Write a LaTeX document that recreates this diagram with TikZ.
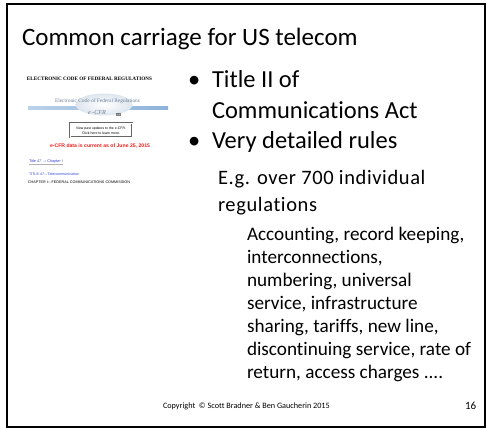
\documentclass[tikz,border=0pt]{standalone}
\usepackage{fontspec}
\usepackage{graphicx}
\usetikzlibrary{shapes.geometric}
\setmainfont[Ligatures=NoCommon]{Carlito}
\newfontfamily\slidefont[Ligatures=NoCommon]{Carlito}
\newfontfamily\subfont[Ligatures=NoCommon,LetterSpace=3]{Carlito}
\newfontfamily\webserif{Liberation Serif}
\newfontfamily\websans{Liberation Sans}
\definecolor{linkblue}{HTML}{3344CC}
\definecolor{alertred}{HTML}{EE1C1C}
\definecolor{logoblue}{HTML}{8DB3D9}
\definecolor{logofill}{HTML}{DDE5EE}
\definecolor{logotext}{HTML}{6A7F95}
\newcommand{\fitw}[2]{\resizebox{#1pt}{!}{#2}}
\tikzset{
  txt/.style={inner sep=0pt, outer sep=0pt, anchor=base west},
  bullettext/.style={txt, font=\slidefont\fontsize{24.5}{28}\selectfont},
  subtext/.style={txt, font=\subfont\fontsize{20.5}{24}\selectfont},
  detailtext/.style={txt, font=\slidefont\fontsize{19.2}{23}\selectfont},
  webtext/.style={txt, inner sep=0pt},
}
\begin{document}
\begin{tikzpicture}[x=1pt,y=-1pt]
\useasboundingbox (0,0) rectangle (487,428);
% slide frame
\draw[line width=2pt] (7,4.5) rectangle (485,427);

% title
\node[txt, font=\slidefont\fontsize{25}{29}\selectfont] (title) at (22,46) {Common carriage for US telecom};

% web page excerpt on the left
\node[webtext] (hdr) at (27,81) {\fitw{125}{\webserif\bfseries ELECTRONIC CODE OF FEDERAL REGULATIONS}};
\shade[left color=logoblue!60, right color=logoblue] (28,106.5) rectangle (168,109);
\node[ellipse, minimum width=57pt, minimum height=22pt, inner sep=0pt,
      shading=radial, inner color=white, outer color=logofill] (logo) at (104,104.5) {};
\node[webtext, text=logotext] (logoname) at (55,102.5) {\fitw{85}{\webserif Electronic Code of Federal Regulations}};
\node[webtext, text=logotext] (ecfr) at (88,114) {\fitw{18}{\webserif\itshape e -CFR}};
\node[draw=gray, fill=gray!20, inner sep=0.5pt, font=\websans\fontsize{2}{2}\selectfont] (tm) at (118,114.5) {TM};
\node[draw=gray!80!black, double=white, double distance=0.6pt, line width=0.5pt,
      minimum width=62pt, minimum height=14pt, inner sep=0pt] (updates) at (101,130) {};
\node[webtext] (upd1) at (76,129) {\fitw{50}{\websans View past updates to the e-CFR.}};
\node[webtext] (upd2) at (82,134.5) {\fitw{38}{\websans Click here to learn more.}};
\node[webtext, text=alertred] (current) at (50,147) {\fitw{100}{\websans\bfseries e-CFR data is current as of June 25, 2015}};
\node[webtext, text=linkblue] (crumb) at (29,162.5) {\fitw{34}{\websans Title 47 $\rightarrow$ Chapter I}};
\fill[gray!60] (29,164.2) rectangle (63,165.4);
\node[webtext, text=linkblue] (titlelink) at (29,175.5) {\fitw{50}{\websans TITLE 47---Telecommunication}};
\node[webtext] (chapter) at (28,183.5) {\fitw{102}{\websans CHAPTER I---FEDERAL COMMUNICATIONS COMMISSION}};

% bullet list on the right
\node[txt, font=\slidefont\fontsize{24.5}{28}\selectfont] (b1) at (188,88) {\textbullet};
\node[bullettext] (l1) at (212,88) {Title II of};
\node[bullettext] (l2) at (212,118) {Communications Act};
\node[txt, font=\slidefont\fontsize{24.5}{28}\selectfont] (b2) at (188,148) {\textbullet};
\node[bullettext] (l3) at (212,148) {Very detailed rules};
\node[subtext] (l4) at (218,184) {E.g. over 700 individual};
\node[subtext] (l5) at (218,211) {regulations};

\node[detailtext] (d1) at (247,240) {Accounting, record keeping,};
\node[detailtext] (d2) at (247,263) {interconnections,};
\node[detailtext] (d3) at (247,286) {numbering, universal};
\node[detailtext] (d4) at (247,309) {service, infrastructure};
\node[detailtext] (d5) at (247,332) {sharing, tariffs, new line,};
\node[detailtext] (d6) at (247,355) {discontinuing service, rate of};
\node[detailtext] (d7) at (247,378) {return, access charges ....};

% footer
\node[txt, font=\slidefont\fontsize{8.2}{9}\selectfont] (copy) at (163,408) {Copyright \ \textcopyright\ Scott Bradner \& Ben Gaucherin 2015};
\node[txt, font=\slidefont\fontsize{11}{12}\selectfont] (page) at (465,409) {16};
\end{tikzpicture}
\end{document}
